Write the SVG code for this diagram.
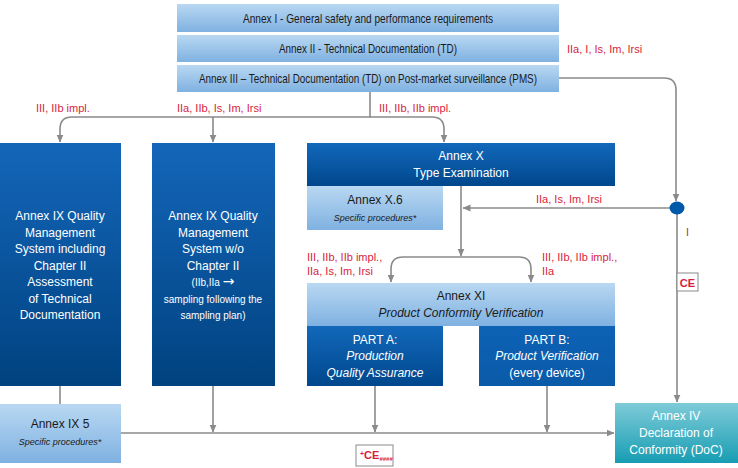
<svg xmlns="http://www.w3.org/2000/svg" width="738" height="468" viewBox="0 0 738 468">
<defs>
<linearGradient id="gLight" x1="0" y1="0" x2="0" y2="1">
<stop offset="0" stop-color="#b9d8f2"/><stop offset="1" stop-color="#7fb1e1"/>
</linearGradient>
<linearGradient id="gDark" x1="0" y1="0" x2="0" y2="1">
<stop offset="0" stop-color="#1466ba"/><stop offset="1" stop-color="#00427f"/>
</linearGradient>
<linearGradient id="gDarkX" x1="0" y1="0" x2="0" y2="1">
<stop offset="0" stop-color="#1268bb"/><stop offset="1" stop-color="#00478c"/>
</linearGradient>
<linearGradient id="gB" x1="0" y1="0" x2="0" y2="1">
<stop offset="0" stop-color="#0d62b5"/><stop offset="1" stop-color="#0a5aa8"/>
</linearGradient>
<linearGradient id="gTeal" x1="0" y1="0" x2="0" y2="1">
<stop offset="0" stop-color="#7fcbd8"/><stop offset="1" stop-color="#179db3"/>
</linearGradient>
<marker id="ah" markerWidth="8" markerHeight="8" refX="7.5" refY="4" orient="auto" markerUnits="userSpaceOnUse">
<path d="M0,0.5 L8,4 L0,7.5 z" fill="#8a8a8a"/>
</marker>
</defs>
<style>
text{font-family:"Liberation Sans",Arial,sans-serif;}
.dk{fill:#1a1a1a;font-size:12px;text-anchor:middle;}
.top{font-size:13px;}
.wt{fill:#ffffff;font-size:12px;text-anchor:middle;}
.it{font-style:italic;}
.sm{font-size:9px;}
.rd{fill:#d71e3c;font-size:11px;}
.conn path{fill:none;stroke:#8a8a8a;stroke-width:1.6;}
.ar{marker-end:url(#ah);}
</style>

<g id="annex1"><rect x="177" y="4" width="382" height="28" fill="url(#gLight)"/><text class="dk top" x="368" y="22.5" textLength="250" lengthAdjust="spacingAndGlyphs">Annex I - General safety and performance requirements</text></g>
<g id="annex2"><rect x="177" y="35" width="382" height="27" fill="url(#gLight)"/><text class="dk top" x="368" y="53" textLength="178" lengthAdjust="spacingAndGlyphs">Annex II - Technical Documentation (TD)</text></g>
<g id="annex3"><rect x="177" y="65" width="382" height="27" fill="url(#gLight)"/><text class="dk top" x="368" y="83" textLength="338" lengthAdjust="spacingAndGlyphs">Annex III – Technical Documentation (TD) on Post-market surveillance (PMS)</text></g>

<g id="ix-qms-full"><rect x="0" y="143" width="121" height="243" fill="url(#gDark)"/>
<text class="wt" x="60" y="220">Annex IX Quality</text>
<text class="wt" x="60" y="237">Management</text>
<text class="wt" x="60" y="253">System including</text>
<text class="wt" x="60" y="270">Chapter II</text>
<text class="wt" x="60" y="286">Assessment</text>
<text class="wt" x="60" y="303">of Technical</text>
<text class="wt" x="60" y="319">Documentation</text>
</g>
<g id="ix-qms-wo"><rect x="152" y="143" width="123" height="243" fill="url(#gDark)"/>
<text class="wt" x="213" y="220">Annex IX Quality</text>
<text class="wt" x="213" y="237">Management</text>
<text class="wt" x="213" y="253">System w/o</text>
<text class="wt" x="213" y="270">Chapter II</text>
<text class="wt" x="213" y="286" style="font-size:10px">(IIb,IIa <tspan style="font-size:14px;font-family:'DejaVu Sans',sans-serif">→</tspan></text>
<text class="wt" x="213" y="303" style="font-size:10px">sampling following the</text>
<text class="wt" x="213" y="319" style="font-size:10px">sampling plan)</text>
</g>
<g id="ix5"><rect x="0" y="404" width="121" height="59" fill="url(#gLight)"/>
<text class="dk" x="60" y="428">Annex IX 5</text>
<text class="dk it sm" x="60" y="445">Specific procedures*</text>
</g>

<g id="annexX"><rect x="307" y="143" width="308" height="43" fill="url(#gDarkX)"/>
<text class="wt" x="461" y="160">Annex X</text>
<text class="wt" x="461" y="177">Type Examination</text>
</g>
<g id="annexX6"><rect x="307" y="186" width="136" height="44" fill="url(#gLight)"/>
<text class="dk" x="375" y="204">Annex X.6</text>
<text class="dk it sm" x="375" y="221">Specific procedures*</text>
</g>

<g id="annexXI"><rect x="307" y="283" width="308" height="43" fill="url(#gLight)"/>
<text class="dk" x="461" y="300">Annex XI</text>
<text class="dk it" x="461" y="317">Product Conformity Verification</text>
</g>
<g id="partA"><rect x="307" y="326" width="136" height="60" fill="url(#gDarkX)"/>
<text class="wt" x="375" y="344">PART A:</text>
<text class="wt it" x="375" y="360">Production</text>
<text class="wt it" x="375" y="377">Quality Assurance</text>
</g>
<g id="partB"><rect x="479" y="326" width="136" height="60" fill="url(#gB)"/>
<text class="wt" x="547" y="344">PART B:</text>
<text class="wt it" x="547" y="360">Product Verification</text>
<text class="wt" x="547" y="377">(every device)</text>
</g>

<g id="annexIV"><rect x="615" y="403" width="123" height="60" fill="url(#gTeal)"/>
<text class="wt" x="676" y="420">Annex IV</text>
<text class="wt" x="676" y="437">Declaration of</text>
<text class="wt" x="676" y="454">Conformity (DoC)</text>
</g>

<g id="connectors" class="conn">
<path d="M370,92 V117 H72 Q60,117 60,129 V142" class="ar"/>
<path d="M213,117 V142" class="ar"/>
<path d="M370,117 H432 Q444,117 444,129 V142" class="ar"/>
<path d="M559,78 H664 Q676,78 676,90 V201" class="ar"/>
<path d="M670,208 H463" class="ar"/>
<path d="M677,214 V402" class="ar"/>
<path d="M461,186 V256" class="ar"/>
<path d="M461,257 H403 Q391,257 391,269 V282" class="ar"/>
<path d="M461,257 H519 Q531,257 531,269 V282" class="ar"/>
<path d="M60,386 V404"/>
<path d="M213,386 V432" class="ar"/>
<path d="M375,386 V432" class="ar"/>
<path d="M547,386 V432" class="ar"/>
<path d="M121,433 H614" class="ar"/>
</g>

<g id="junction"><ellipse cx="677" cy="208" rx="7.5" ry="6.5" fill="#0058a8"/></g>

<g id="labels">
<text class="rd" x="36" y="112">III, IIb impl.</text>
<text class="rd" x="177" y="112">IIa, IIb, Is, Im, Irsi</text>
<text class="rd" x="379" y="112">III, IIb, IIb impl.</text>
<text class="rd" x="567" y="53">IIa, I, Is, Im, Irsi</text>
<text class="rd" x="536" y="203">IIa, Is, Im, Irsi</text>
<text class="rd" x="686" y="236">I</text>
<text class="rd" x="307" y="261">III, IIb, IIb impl.,</text>
<text class="rd" x="307" y="275">IIa, Is, Im, Irsi</text>
<text class="rd" x="542" y="261">III, IIb, IIb impl.,</text>
<text class="rd" x="542" y="275">IIa</text>
</g>

<g id="ce-mark"><rect x="677" y="273" width="21" height="18" fill="#ffffff" stroke="#8a8a8a" stroke-width="1"/>
<text x="687.5" y="287" style="fill:#d71e3c;font-size:11px;font-weight:bold;text-anchor:middle">CE</text></g>
<g id="ce-nb"><rect x="356" y="445" width="37" height="21" fill="#ffffff" stroke="#8a8a8a" stroke-width="1"/>
<text x="360" y="459" style="fill:#d71e3c;font-size:11px;font-weight:bold"><tspan style="font-size:7px" dy="-3">+</tspan><tspan dy="3">CE</tspan><tspan style="font-size:6px" dy="2">####</tspan></text></g>
</svg>
